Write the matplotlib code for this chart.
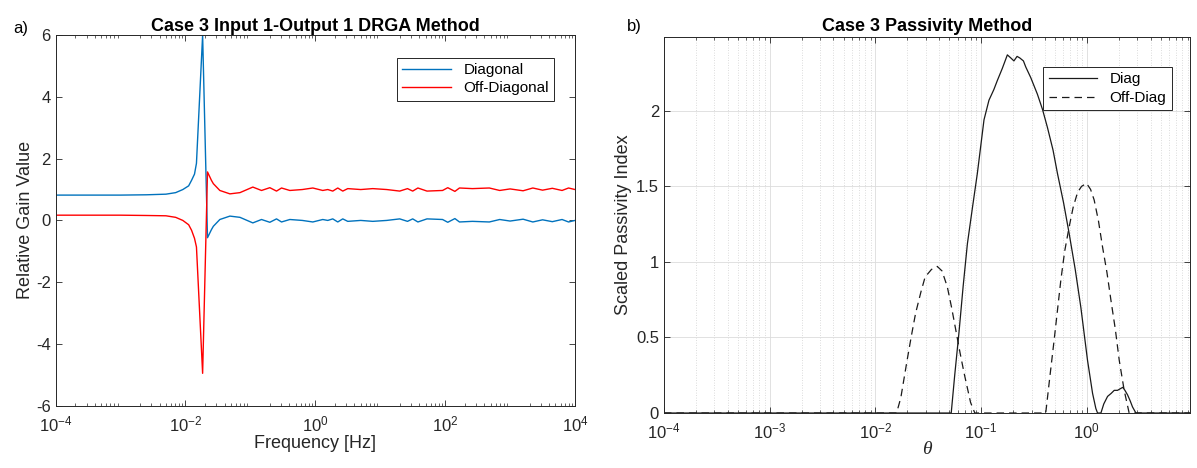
# plot.py
# Two-panel comparison: DRGA relative gain (a) and scaled passivity index (b)
# for Case 3. Values.

import matplotlib
matplotlib.use("Agg")
import matplotlib.pyplot as plt
from matplotlib.ticker import LogLocator, NullFormatter

plt.rcParams["font.family"] = ["Liberation Sans", "DejaVu Sans"]
plt.rcParams["mathtext.default"] = "regular"
plt.rcParams["axes.unicode_minus"] = False

# --- panel a) : DRGA, x given as log10(frequency in Hz) ---
drga_log_freq = [-4.0, -3.5, -3.0, -2.6, -2.3, -2.15, -2.04, -1.95, -1.905, -1.86,
                 -1.83, -1.735, -1.66, -1.6, -1.57, -1.47, -1.315, -1.16, -1.05, -0.962,
                 -0.828, -0.70, -0.597, -0.52, -0.392, -0.2, -0.038, 0.115, 0.192, 0.269,
                 0.346, 0.423, 0.5, 0.7, 0.885, 1.1, 1.3, 1.42, 1.5, 1.58,
                 1.72, 1.96, 2.04, 2.15, 2.22, 2.42, 2.68, 2.84, 3.0, 3.2,
                 3.35, 3.5, 3.65, 3.8, 3.9, 4.0]
drga_diag = [0.82, 0.82, 0.82, 0.83, 0.85, 0.90, 1.00, 1.12, 1.30, 1.50,
             1.85, 6.00, -0.56, -0.30, -0.19, 0.03, 0.14, 0.10, 0.00, -0.08,
             0.03, -0.06, 0.05, -0.05, 0.03, 0.00, -0.05, 0.03, 0.00, 0.05,
             -0.05, 0.05, -0.03, 0.00, -0.03, 0.00, 0.05, -0.03, 0.05, -0.05,
             0.05, 0.03, -0.06, 0.06, -0.05, -0.03, -0.05, 0.03, -0.02, 0.04,
             -0.05, 0.02, -0.04, 0.03, -0.05, 0.00]
drga_offdiag = [0.17, 0.17, 0.17, 0.16, 0.15, 0.10, 0.00, -0.14, -0.32, -0.58,
                -0.86, -4.95, 1.57, 1.30, 1.19, 0.97, 0.86, 0.90, 1.00, 1.08,
                0.97, 1.06, 0.95, 1.05, 0.97, 1.00, 1.05, 0.97, 1.00, 0.95,
                1.05, 0.95, 1.03, 1.00, 1.03, 1.00, 0.95, 1.03, 0.95, 1.05,
                0.95, 0.97, 1.06, 0.94, 1.05, 1.03, 1.05, 0.97, 1.02, 0.96,
                1.05, 0.98, 1.04, 0.97, 1.05, 1.00]

# --- panel b) : passivity index, x given as log10(theta) ---
diag_log_theta = [-4.0, -1.283, -1.25, -1.21, -1.17, -1.13, -1.08, -1.036, -0.973, -0.926,
                  -0.88, -0.847, -0.80, -0.752, -0.72, -0.69, -0.66, -0.635, -0.60, -0.578,
                  -0.531, -0.468, -0.42, -0.373, -0.32, -0.278, -0.22, -0.168, -0.11, -0.057,
                  0.006, 0.054, 0.085, 0.101, 0.133, 0.16, 0.196, 0.23, 0.259, 0.29,
                  0.322, 0.34, 0.36, 0.385, 0.41, 0.432, 0.464, 0.975]
diag_index = [0.0, 0.0, 0.25, 0.53, 0.84, 1.12, 1.37, 1.585, 1.94, 2.07,
              2.14, 2.20, 2.28, 2.37, 2.35, 2.33, 2.36, 2.35, 2.33, 2.29,
              2.22, 2.11, 2.01, 1.89, 1.74, 1.585, 1.39, 1.19, 0.95, 0.70,
              0.35, 0.13, 0.03, 0.0, 0.0, 0.06, 0.11, 0.13, 0.15, 0.15,
              0.163, 0.17, 0.15, 0.12, 0.08, 0.04, 0.0, 0.0]

off_log_theta = [-4.0, -1.80, -1.76, -1.70, -1.66, -1.62, -1.57, -1.53, -1.47, -1.415,
                 -1.37, -1.32, -1.28, -1.24, -1.20, -1.16, -1.10, -1.06, -0.389, -0.35,
                 -0.31, -0.246, -0.21, -0.168, -0.13, -0.088, -0.05, -0.003, 0.035, 0.069,
                 0.11, 0.148, 0.19, 0.227, 0.27, 0.306, 0.353, 0.40, 0.975]
off_index = [0.0, 0.0, 0.10, 0.35, 0.51, 0.66, 0.80, 0.90, 0.95, 0.97,
             0.94, 0.835, 0.70, 0.55, 0.40, 0.26, 0.07, 0.0, 0.0, 0.24,
             0.48, 0.88, 1.07, 1.23, 1.36, 1.46, 1.50, 1.52, 1.48, 1.41,
             1.27, 1.10, 0.93, 0.75, 0.55, 0.35, 0.15, 0.0, 0.0]

AX_COLOR = "#262626"


def style_axes(ax):
    """MATLAB-like box: ticks inside on all four sides."""
    for s in ax.spines.values():
        s.set_color(AX_COLOR)
        s.set_linewidth(0.7)
    ax.tick_params(which="both", direction="in", top=True, right=True,
                   colors=AX_COLOR, labelsize=12)
    ax.tick_params(which="major", length=4, width=0.6)
    ax.tick_params(which="minor", length=2, width=0.5)
    ax.tick_params(axis="x", pad=6)


def plot_drga(ax):
    """Panel a) diagonal / off-diagonal DRGA element over frequency."""
    freq = [10 ** v for v in drga_log_freq]
    ax.plot(freq, drga_diag, color="#0072BD", linewidth=1.0, label="Diagonal")
    ax.plot(freq, drga_offdiag, color="#FF0000", linewidth=1.0, label="Off-Diagonal")

    ax.set_xscale("log")
    ax.set_xlim(1e-4, 1e4)
    ax.set_ylim(-6, 6)
    ax.set_xticks([1e-4, 1e-2, 1e0, 1e2, 1e4])
    ax.set_yticks([-6, -4, -2, 0, 2, 4, 6])
    ax.xaxis.set_minor_locator(LogLocator(base=10, subs=range(2, 10), numticks=20))
    ax.xaxis.set_minor_formatter(NullFormatter())
    style_axes(ax)

    ax.set_xlabel("Frequency [Hz]", fontsize=13, color=AX_COLOR, labelpad=1)
    ax.set_ylabel("Relative Gain Value", fontsize=13, color=AX_COLOR, labelpad=1)
    ax.set_title("Case 3 Input 1-Output 1 DRGA Method", fontsize=13,
                 fontweight="bold", pad=3)
    leg = ax.legend(loc="upper right", bbox_to_anchor=(0.975, 0.96), fontsize=11,
                    fancybox=False, framealpha=1, edgecolor=AX_COLOR,
                    handlelength=3.2, borderpad=0.35, labelspacing=0.3)
    leg.get_frame().set_linewidth(0.7)


def plot_passivity(ax):
    """Panel b) scaled passivity index against theta."""
    th_d = [10 ** v for v in diag_log_theta]
    th_o = [10 ** v for v in off_log_theta]
    ax.plot(th_d, diag_index, color="#1a1a1a", linewidth=0.9, label="Diag")
    ax.plot(th_o, off_index, color="#1a1a1a", linewidth=0.9, linestyle=(0, (6, 4)),
            label="Off-Diag")

    ax.set_xscale("log")
    ax.set_xlim(1e-4, 10 ** 0.975)
    ax.set_ylim(0, 2.49)
    ax.set_xticks([1e-4, 1e-3, 1e-2, 1e-1, 1e0])
    ax.set_yticks([0, 0.5, 1, 1.5, 2])
    ax.set_yticklabels(["0", "0.5", "1", "1.5", "2"])
    ax.xaxis.set_minor_locator(LogLocator(base=10, subs=range(2, 10), numticks=20))
    ax.xaxis.set_minor_formatter(NullFormatter())
    ax.grid(True, which="major", color="#dcdcdc", linewidth=0.6)
    ax.grid(True, which="minor", axis="x", color="#d0d0d0", linewidth=0.6,
            linestyle=(0, (1, 2)))
    ax.set_axisbelow(True)
    style_axes(ax)

    ax.set_xlabel("θ", fontsize=14, color=AX_COLOR, style="italic",
                  family=["Liberation Serif", "DejaVu Serif"], labelpad=0)
    ax.set_ylabel("Scaled Passivity Index", fontsize=13, color=AX_COLOR, labelpad=3)
    ax.set_title("Case 3 Passivity Method", fontsize=13, fontweight="bold", pad=4)
    leg = ax.legend(loc="upper right", bbox_to_anchor=(0.98, 0.94), fontsize=11,
                    fancybox=False, framealpha=1, edgecolor=AX_COLOR,
                    handlelength=3.2, borderpad=0.35, labelspacing=0.3)
    leg.get_frame().set_linewidth(0.7)


fig = plt.figure(figsize=(11.97, 4.68), dpi=100)
ax_a = fig.add_axes([0.0464, 0.133, 0.434, 0.792])
ax_b = fig.add_axes([0.5547, 0.1175, 0.4394, 0.8040])

plot_drga(ax_a)
plot_passivity(ax_b)

fig.text(13 / 1197, 1 - 28 / 468, "a)", fontsize=12, va="center", ha="left")
fig.text(627 / 1197, 1 - 27 / 468, "b)", fontsize=12, va="center", ha="left")

fig.savefig("out.png", dpi=100)
